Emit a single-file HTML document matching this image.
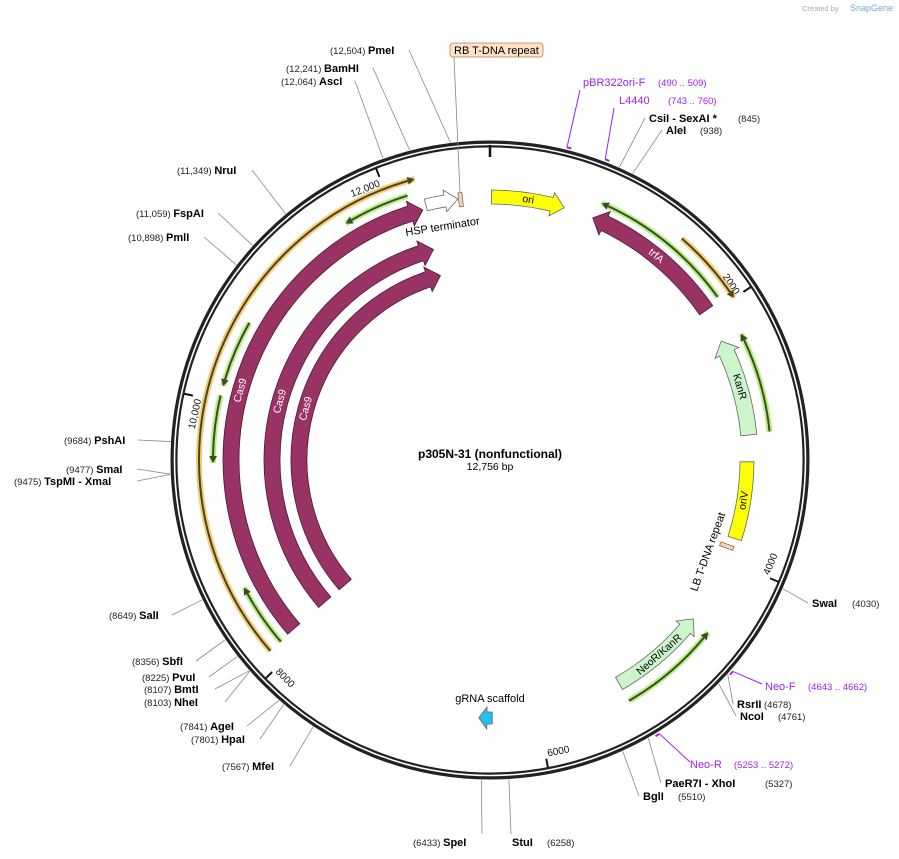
<!DOCTYPE html>
<html><head><meta charset="utf-8"><style>
body{margin:0;background:#fff;}
svg{display:block;font-family:"Liberation Sans","DejaVu Sans",sans-serif;}
.en{font-weight:bold;font-size:11px;fill:#000;}
.num{font-size:9.5px;fill:#222;}
.pr{font-size:11px;fill:#a020f0;}
.prn{font-size:9.5px;fill:#a020f0;}
</style></head><body>
<svg id="map" width="899" height="859" viewBox="0 0 899 859" xmlns="http://www.w3.org/2000/svg">
<text x="802" y="11" font-size="7.5" fill="#aaa">Created by</text>
<text x="850" y="11" font-size="9" fill="#6aaed6">SnapGene</text>
<g id="g"></g>
</svg>
<script>
const TOTAL=12756;
const featNames=["Cas9","Cas9","Cas9","cas9-region","cas9-primer-a","cas9-primer-b","cas9-primer-c","cas9-primer-d","HSP terminator","ori","trfA","trfA-primer","trfA-region","KanR","KanR-primer","oriV","NeoR/KanR","NeoR-primer","gRNA scaffold"];
const featStart=[8124,8124,8124,8114,11643,10115,9545,8114,12256,11,815,833,1449,2225,2243,3203,4535,4546,6360];
const featEnd=[12223,12223,12223,12223,12142,10619,10045,8596,12507,581,1959,1927,1998,2994,2983,3819,5315,5315,6466];
const featDir=[1,1,1,1,-1,-1,-1,1,1,1,-1,-1,1,-1,-1,0,-1,-1,1];
const featType=["band","band","band","orange","green","green","green","green","band","band","band","green","orange","band","green","band","band","green","band"];
const featRadius=[259,218,191,291,277,277,277,277,263,263,263,280,293,260,281,257,258,278,258];
const featWidth=[16,16,16,0,0,0,0,0,12,14,16,0,0,16,0,14,14,0,12];
const featFill=["#993366","#993366","#993366","","","","","","#ffffff","#ffff00","#993366","","","#ccf5cc","","#ffff00","#ccf5cc","","#22c0ee"];
const featLabel=["Cas9","Cas9","Cas9","","","","","","","ori","trfA","","","KanR","","oriV","NeoR/KanR","",""];
const siteNames=["PmeI","BamHI","AscI","NruI","FspAI","PmlI","PshAI","SmaI","TspMI - XmaI","SalI","SbfI","PvuI","BmtI","NheI","AgeI","HpaI","MfeI","SpeI","StuI","BglI","PaeR7I - XhoI","NcoI","RsrII","SwaI","CsiI - SexAI *","AleI"];
const sitePos=[12504,12241,12064,11349,11059,10898,9684,9477,9475,8649,8356,8225,8107,8103,7841,7801,7567,6433,6258,5510,5327,4761,4678,4030,845,938];
const tickVals=[2000,4000,6000,8000,10000,12000];
const tickLabels=["2000","4000","6000","8000","10,000","12,000"];
const primerNames=["pBR322ori-F","L4440","Neo-F","Neo-R"];
const primerRange=["(490 .. 509)","(743 .. 760)","(4643 .. 4662)","(5253 .. 5272)"];
const primerPos=[490,743,4643,5253];

const NS="http://www.w3.org/2000/svg",G=document.getElementById('g');
const CX=490,CY=460,R=316;
const ang=bp=>bp/TOTAL*360;
function P(a,r){const t=a*Math.PI/180;return [CX+r*Math.sin(t),CY-r*Math.cos(t)];}
function mk(tag,at,parent){const e=document.createElementNS(NS,tag);for(const k in at)e.setAttribute(k,at[k]);(parent||G).appendChild(e);return e;}
function arc(a0,a1,r){const p0=P(a0,r),p1=P(a1,r);const large=Math.abs(a1-a0)>180?1:0;const sw=a1>a0?1:0;return `M${p0[0]},${p0[1]} A${r},${r} 0 ${large} ${sw} ${p1[0]},${p1[1]}`;}
function arcTo(a0,a1,r){const p1=P(a1,r);const large=Math.abs(a1-a0)>180?1:0;const sw=a1>a0?1:0;return ` A${r},${r} 0 ${large} ${sw} ${p1[0]},${p1[1]}`;}
function pl(p){return p[0]+','+p[1];}

const ring=mk('circle',{cx:CX,cy:CY,r:R,fill:'none',stroke:'#222','stroke-width':7});


mk('circle',{cx:CX,cy:CY,r:R-0.5,fill:'none',stroke:'#fff','stroke-width':1.6});
mk('line',{x1:490,y1:145,x2:490,y2:157,stroke:'#111','stroke-width':2.5});
tickVals.forEach((v,i)=>{
  const a=ang(v);const p1=P(a,313),p2=P(a,304);
  const t=mk('line',{x1:p1[0],y1:p1[1],x2:p2[0],y2:p2[1],stroke:'#111','stroke-width':2});
  
  
  const flip=a>90&&a<270;
  const lp=P(a-0.4,304);
  const rot=flip?a-180:a;
  const tx=mk('text',{x:lp[0],y:lp[1],'font-size':10,fill:'#111','text-anchor':flip?'start':'end',transform:`rotate(${rot} ${lp[0]} ${lp[1]})`,dy:flip?'-2':'9'});
  tx.textContent=tickLabels[i];
  
  
});

featStart.forEach((s,i)=>{
  let a0=ang(s),a1=ang(featEnd[i]);const r=featRadius[i],d=featDir[i],type=featType[i];
  if(type==='band'){
    const w=featWidth[i];const ro=r+w/2,ri=r-w/2;
    const hl=Math.min(13,(a1-a0)*Math.PI/180*r*0.6)/r*180/Math.PI;
    let path;
    if(d===1){const ah=a1-hl;path=`M${pl(P(a0,ro))}`+arcTo(a0,ah,ro)+` L${pl(P(ah,ro+5))} L${pl(P(a1,r))} L${pl(P(ah,ri-5))} L${pl(P(ah,ri))}`+arcTo(ah,a0,ri)+' Z';}
    else if(d===-1){const ah=a0+hl;path=`M${pl(P(a1,ro))}`+arcTo(a1,ah,ro)+` L${pl(P(ah,ro+5))} L${pl(P(a0,r))} L${pl(P(ah,ri-5))} L${pl(P(ah,ri))}`+arcTo(ah,a1,ri)+' Z';}
    else{path=`M${pl(P(a0,ro))}`+arcTo(a0,a1,ro)+` L${pl(P(a1,ri))}`+arcTo(a1,a0,ri)+' Z';}
    const e=mk('path',{d:path,fill:featFill[i],stroke:featFill[i]==='#993366'?'#4a1a33':'#666','stroke-width':0.8});
    
    
    if(featLabel[i]){
      let am=(a0+a1)/2;if(featLabel[i]==='Cas9')am=285.6;
      const flip=am>90&&am<270;const lp=P(am,r);
      const col=featFill[i]==='#993366'?'#fff':'#000';
      const t=mk('text',{x:lp[0],y:lp[1],'font-size':10.5,fill:col,'text-anchor':'middle','dominant-baseline':'central',transform:`rotate(${flip?am-180:am} ${lp[0]} ${lp[1]})`});
      t.textContent=featLabel[i];
      
      
    }
  } else {
    const glow=type==='green'?'#b8f080':'#ffc870';
    const g1=mk('path',{d:arc(a0,a1,r),fill:'none',stroke:glow,'stroke-width':6});
    
    
    const hl=7/r*180/Math.PI;
    const b0=d===-1?a0+hl:a0,b1=d===1?a1-hl:a1;
    const ln=mk('path',{d:arc(b0,b1,r),fill:'none',stroke:'#3a4a2a','stroke-width':2});
    
    
    const tip=d===1?a1:a0,hb=d===1?a1-hl:a0+hl;
    mk('path',{d:`M${pl(P(tip,r))} L${pl(P(hb,r+4))} L${pl(P(hb,r-4))} Z`,fill:'#3a4a2a'});
  }
});
(function(){const t=mk('text',{x:406,y:236,'font-size':11,fill:'#000',transform:'rotate(-9 406 236)'});t.textContent='HSP terminator';})();
function box(bp,r,name){const a=ang(bp);const p=P(a,r);const e=mk('rect',{x:p[0]-2,y:p[1]-7,width:4,height:14,fill:'#f5d5b8',stroke:'#8a6a55','stroke-width':0.8,transform:`rotate(${a} ${p[0]} ${p[1]})`});}
box(12528,262,'rb-tdna-repeat');box(3897,252,'lb-tdna-repeat');
(function(){const t=mk('text',{x:697,y:592,'font-size':11,fill:'#000',transform:'rotate(-70 697 592)'});t.textContent='LB T-DNA repeat';
const r=mk('rect',{x:450,y:43,width:93,height:14,rx:3,fill:'#fde2c8',stroke:'#b08060','stroke-width':0.8});
const t2=mk('text',{x:454,y:54,'font-size':11,fill:'#000'});t2.textContent='RB T-DNA repeat';
mk('line',{x1:454,y1:57,x2:460,y2:193,stroke:'#888','stroke-width':0.8});
const g=mk('text',{x:490,y:702,'font-size':11,fill:'#000','text-anchor':'middle'});g.textContent='gRNA scaffold';
})();

// [number x, baseline y, name x]
const siteLab=[[330,54,405],[286,72,369],[281,85,351],[177,174,248],[136,217,214],[128,241,200],[64,444,134],[66,473,133],[14,485,133],[109,619,168],[132,665,192],[142,681,205],[144,693,211],[144,706,221],[180,730,243],[191,743,256],[222,770,286],[413,846,476],[547,846,512],[678,800,643],[765,787,665],[778,720,740],[764,708,737],[852,607,812],[738,122,649],[700,134,666]];
siteNames.forEach((n,i)=>{
  const a=ang(sitePos[i]);const rp=P(a,320);const L=siteLab[i];
  const right=a<180;
  let lx,ly=L[1]-4;
  if(right){lx=L[2]-4;} else {lx=L[2]+4;}
  if(i===17||i===18){lx=i===17?482:511;ly=L[1]-12;}
  const ln=mk('line',{x1:rp[0],y1:rp[1],x2:lx,y2:ly,stroke:'#888','stroke-width':0.8});
  
  
  const t=mk('text',{x:L[0],y:L[1]});
  const fmt=sitePos[i]>=10000?sitePos[i].toLocaleString('en-US'):String(sitePos[i]);
  if(right || i===18){
    const a1=document.createElementNS(NS,'tspan');a1.setAttribute('class','en');a1.setAttribute('x',L[2]);a1.textContent=n;t.appendChild(a1);
    const a2=document.createElementNS(NS,'tspan');a2.setAttribute('class','num');a2.setAttribute('x',L[0]);a2.textContent='('+fmt+')';t.appendChild(a2);
  } else {
    const a2=document.createElementNS(NS,'tspan');a2.setAttribute('class','num');a2.textContent='('+fmt+')  ';t.appendChild(a2);
    const a1=document.createElementNS(NS,'tspan');a1.setAttribute('class','en');a1.textContent=n;t.appendChild(a1);
  }
  
  
});
const primLab=[[583,86,658,580,90],[619,104,668,614,108],[765,690,808,762,684],[690,768,734,690,762]];
primerNames.forEach((n,i)=>{
  const a=ang(primerPos[i]);const rp=P(a,322);const L=primLab[i];
  const ln=mk('path',{d:`M${rp[0]},${rp[1]} L${L[3]},${L[4]}`,fill:'none',stroke:'#a020f0','stroke-width':1});
  
  
  const p2=P(a+0.8,322);mk('line',{x1:rp[0],y1:rp[1],x2:p2[0],y2:p2[1],stroke:'#a020f0','stroke-width':2});
  const t=mk('text',{x:L[0],y:L[1],class:'pr'});t.textContent=n;
  
  
  const t2=mk('text',{x:L[2],y:L[1],class:'prn'});t2.textContent=primerRange[i];
  
  
});
const ti=mk('text',{x:490,y:458,'font-size':12,'font-weight':'bold','text-anchor':'middle'});ti.textContent='p305N-31 (nonfunctional)';


const sz=mk('text',{x:490,y:470,'font-size':10.5,'text-anchor':'middle'});sz.textContent='12,756 bp';


</script>
</body></html>
